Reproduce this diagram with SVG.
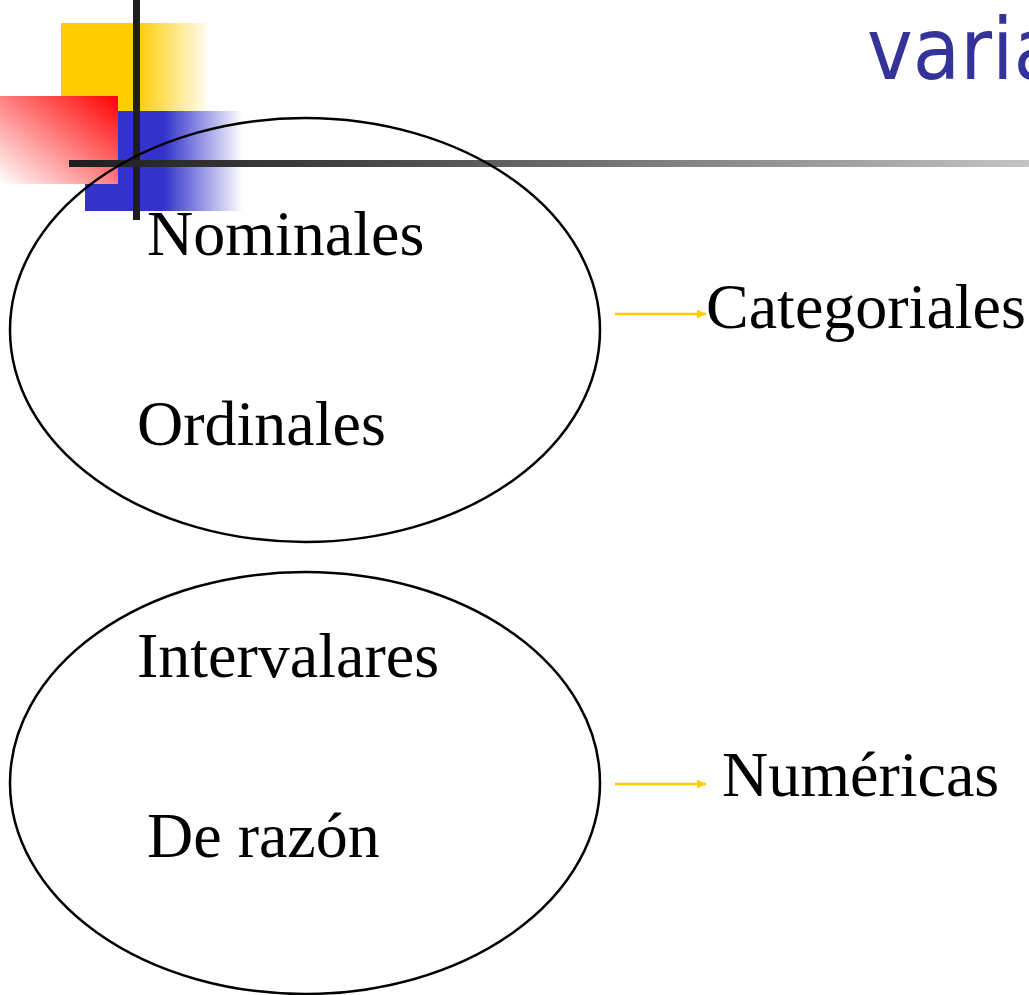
<svg xmlns="http://www.w3.org/2000/svg" width="1029" height="995" viewBox="0 0 1029 995">
<defs>
  <linearGradient id="gY" x1="0" y1="0" x2="1" y2="0">
    <stop offset="0" stop-color="#ffcc00"/>
    <stop offset="0.5" stop-color="#ffcc00"/>
    <stop offset="1" stop-color="#ffcc00" stop-opacity="0"/>
  </linearGradient>
  <linearGradient id="gR" x1="1" y1="0" x2="0" y2="1">
    <stop offset="0" stop-color="#ff0000"/>
    <stop offset="1" stop-color="#ffffff"/>
  </linearGradient>
  <linearGradient id="gB" x1="0" y1="0" x2="1" y2="0">
    <stop offset="0" stop-color="#3333cc"/>
    <stop offset="0.5" stop-color="#3333cc"/>
    <stop offset="1" stop-color="#3333cc" stop-opacity="0"/>
  </linearGradient>
  <linearGradient id="gL" x1="0" y1="0" x2="1" y2="0">
    <stop offset="0" stop-color="#1e1e1e"/>
    <stop offset="0.3" stop-color="#444444"/>
    <stop offset="1" stop-color="#c4c4c4"/>
  </linearGradient>
  <marker id="ah" viewBox="0 0 10 10" refX="10" refY="5" markerWidth="9" markerHeight="9" orient="auto" markerUnits="userSpaceOnUse">
    <path d="M0,0 L10,5 L0,10 z" fill="#ffcc00"/>
  </marker>
  <style>
    .t{font-family:"Liberation Serif","Times New Roman",serif;font-size:64px;fill:#000}
    .e{fill:none;stroke:#000;stroke-width:2.5}
    .c{stroke:#ffcc00;stroke-width:2.5;fill:none}
  </style>
</defs>
<rect width="1029" height="995" fill="#fff"/>
<g id="deco">
  <rect x="61" y="23" width="150" height="88" fill="url(#gY)"/>
  <rect x="85" y="111" width="158" height="100" fill="url(#gB)"/>
  <rect x="0" y="96" width="118" height="88" fill="url(#gR)"/>
  <rect x="133" y="0" width="7" height="220" fill="#1e1e1e"/>
  <rect x="69" y="160" width="960" height="7" fill="url(#gL)"/>
</g>
<text x="867" y="79" style="font-family:'DejaVu Sans Condensed','DejaVu Sans',sans-serif;font-stretch:condensed;font-size:86px;fill:#333399">varia</text>
<g id="ellipse1">
  <ellipse class="e" cx="305" cy="330" rx="295" ry="212"/>
  <text class="t" x="147" y="255">Nominales</text>
  <text class="t" x="137" y="445">Ordinales</text>
</g>
<g id="ellipse2">
  <ellipse class="e" cx="305" cy="783" rx="295" ry="211"/>
  <text class="t" x="137" y="677">Intervalares</text>
  <text class="t" x="147" y="857">De razón</text>
</g>
<g id="categoriales"><text class="t" x="706" y="328">Categoriales</text></g>
<g id="numericas"><text class="t" x="722" y="796">Numéricas</text></g>
<g id="connectors">
  <line class="c" x1="615" y1="314" x2="706" y2="314" marker-end="url(#ah)"/>
  <line class="c" x1="615" y1="784" x2="706" y2="784" marker-end="url(#ah)"/>
</g>
</svg>
